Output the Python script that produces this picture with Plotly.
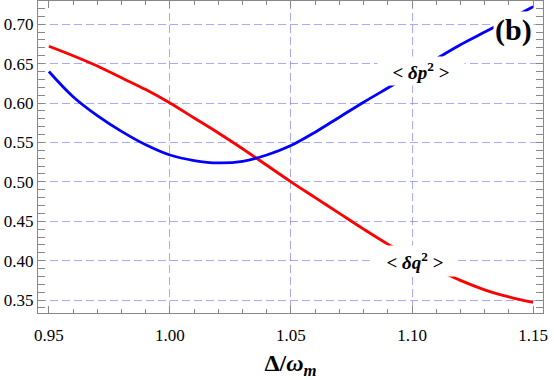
import plotly.graph_objects as go

# detuning values (Delta / omega_m)
detuning = [0.95, 0.96, 0.97, 0.98, 0.99, 1.00, 1.01, 1.02, 1.03, 1.04, 1.05,
            1.06, 1.07, 1.08, 1.09, 1.10, 1.11, 1.12, 1.13, 1.14, 1.15]

# < dq^2 >
dq2 = [0.672, 0.660, 0.647, 0.632, 0.617, 0.600, 0.581, 0.562, 0.542, 0.521, 0.500,
       0.480, 0.460, 0.440, 0.421, 0.404, 0.389, 0.375, 0.363, 0.354, 0.347]

# < dp^2 > (runs under the (b) label and out of the top of the frame)
dp2 = [0.640, 0.608, 0.584, 0.564, 0.547, 0.534, 0.527, 0.524, 0.526, 0.534, 0.546,
       0.563, 0.582, 0.601, 0.619, 0.637, 0.656, 0.674, 0.690, 0.706, 0.722]

x_range = [0.9455, 1.1541]
y_range = [0.3336, 0.7294]
x_ticks = [0.95, 1.00, 1.05, 1.10, 1.15]
x_grid = [1.00, 1.05, 1.10]
y_ticks = [0.35, 0.40, 0.45, 0.50, 0.55, 0.60, 0.65, 0.70]

serif = "Liberation Serif"

fig = go.Figure()
fig.add_trace(go.Scatter(x=detuning, y=dq2, mode="lines", line=dict(color="#ff0000", width=2.8),
                         line_shape="spline", showlegend=False))
fig.add_trace(go.Scatter(x=detuning, y=dp2, mode="lines", line=dict(color="#0000ff", width=2.8),
                         line_shape="spline", showlegend=False))
# invisible trace carrying the grid-only axis
fig.add_trace(go.Scatter(x=detuning, y=dq2, xaxis="x2", mode="lines", opacity=0,
                         hoverinfo="skip", showlegend=False))

grid_col = "rgba(110,110,255,0.6)"
grid_dash = "8px,4px"
frame_col = "#888888"
fig.update_layout(
    width=554, height=380,
    margin=dict(l=38, r=11, t=1, b=67),
    plot_bgcolor="white", paper_bgcolor="white",
    font=dict(family=serif, size=17, color="black"),
    xaxis=dict(range=x_range, tickvals=x_ticks, ticktext=["%.2f" % v for v in x_ticks],
               automargin=False, showgrid=False, zeroline=False, showline=True, linecolor=frame_col,
               mirror="allticks", ticks="inside", ticklen=7, tickcolor=frame_col,
               ticklabelstandoff=7,
               tickfont=dict(family=serif, size=17, color="black"),
               minor=dict(dtick=0.01, tick0=0.95, ticks="inside", ticklen=4, tickcolor=frame_col, showgrid=False),
               title=dict(text="<b>Δ/<i>ω</i><sub><i>m</i></sub></b>", font=dict(family=serif, size=24), standoff=20)),
    xaxis2=dict(overlaying="x", range=x_range, tickvals=x_grid, showticklabels=False, ticks="",
                automargin=False, showgrid=True, gridcolor=grid_col, griddash=grid_dash, gridwidth=1,
                zeroline=False, showline=False),
    yaxis=dict(range=y_range, tickvals=y_ticks, ticktext=["%.2f" % v for v in y_ticks],
               automargin=False, showgrid=True, gridcolor=grid_col, griddash=grid_dash, gridwidth=1,
               zeroline=False, showline=True, linecolor=frame_col, mirror="allticks",
               ticks="inside", ticklen=7, tickcolor=frame_col,
               tickfont=dict(family=serif, size=17, color="black"),
               minor=dict(dtick=0.01, tick0=0.35, ticks="inside", ticklen=4, tickcolor=frame_col, showgrid=False)),
)

fig.add_annotation(x=1.1420, y=0.6928, text="<b>(b)</b>", showarrow=False, bgcolor="white",
                   font=dict(size=30, family=serif))
fig.add_annotation(x=1.1039, y=0.6412, text="<b>< <i>δp</i><sup>2</sup> ></b>", showarrow=False,
                   bgcolor="white", width=84, height=26, font=dict(size=19, family=serif))
fig.add_annotation(x=1.1012, y=0.4000, text="<b>< <i>δq</i><sup>2</sup> ></b>", showarrow=False,
                   bgcolor="white", width=80, height=28, font=dict(size=19, family=serif))

# drop the default page margin so the figure sits at the window's top-left corner
fig.write_html("out.html", config={"displayModeBar": False},
               post_script="document.body.style.margin='0';")
